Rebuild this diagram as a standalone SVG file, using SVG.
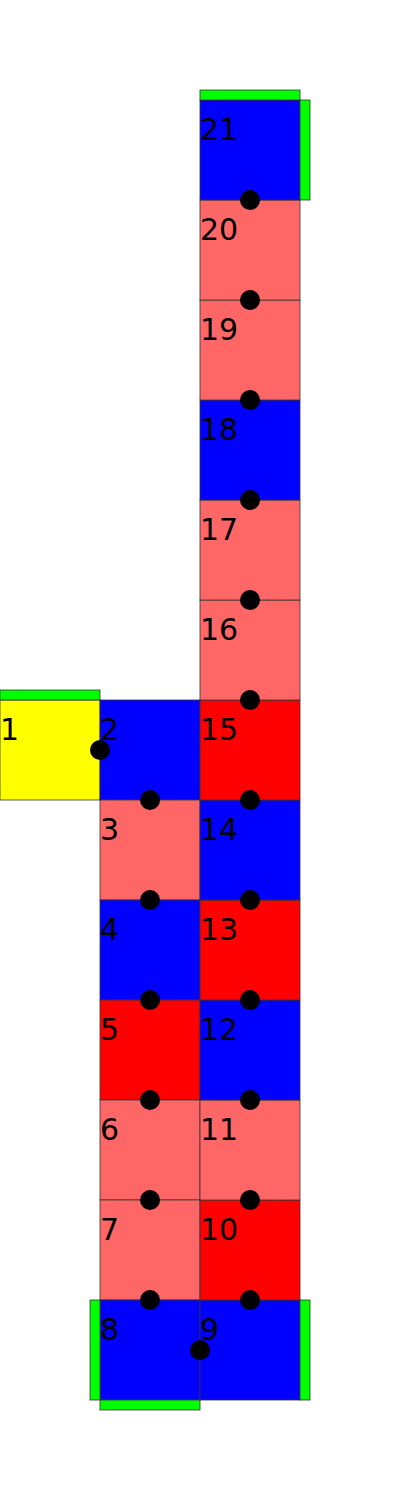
<svg xmlns="http://www.w3.org/2000/svg" width="400" height="1500" viewBox="0 0 400 1500">
<style>
.c{stroke:#333;stroke-width:1;stroke-opacity:0.8}
.y{fill:#ffff00}.b{fill:#0000ff}.s{fill:#ff6666}.r{fill:#ff0000}
.g{fill:#00ff00;stroke:#333;stroke-width:1;stroke-opacity:0.8}
text{font-family:"DejaVu Sans",sans-serif;font-size:30px;fill:#000}
.d{fill:#000}
</style>
<rect width="400" height="1500" fill="#fff"/>
<g id="n1"><rect class="c y" x="0" y="700" width="100" height="100"/><rect class="g" x="0" y="690" width="100" height="10"/><text x="0" y="740">1</text></g>
<g id="n2"><rect class="c b" x="100" y="700" width="100" height="100"/><text x="100" y="740">2</text></g>
<g id="n3"><rect class="c s" x="100" y="800" width="100" height="100"/><text x="100" y="840">3</text></g>
<g id="n4"><rect class="c b" x="100" y="900" width="100" height="100"/><text x="100" y="940">4</text></g>
<g id="n5"><rect class="c r" x="100" y="1000" width="100" height="100"/><text x="100" y="1040">5</text></g>
<g id="n6"><rect class="c s" x="100" y="1100" width="100" height="100"/><text x="100" y="1140">6</text></g>
<g id="n7"><rect class="c s" x="100" y="1200" width="100" height="100"/><text x="100" y="1240">7</text></g>
<g id="n8"><rect class="c b" x="100" y="1300" width="100" height="100"/><rect class="g" x="90" y="1300" width="10" height="100"/><rect class="g" x="100" y="1400" width="100" height="10"/><text x="100" y="1340">8</text></g>
<g id="n9"><rect class="c b" x="200" y="1300" width="100" height="100"/><rect class="g" x="300" y="1300" width="10" height="100"/><text x="200" y="1340">9</text></g>
<g id="n10"><rect class="c r" x="200" y="1200" width="100" height="100"/><text x="200" y="1240">10</text></g>
<g id="n11"><rect class="c s" x="200" y="1100" width="100" height="100"/><text x="200" y="1140">11</text></g>
<g id="n12"><rect class="c b" x="200" y="1000" width="100" height="100"/><text x="200" y="1040">12</text></g>
<g id="n13"><rect class="c r" x="200" y="900" width="100" height="100"/><text x="200" y="940">13</text></g>
<g id="n14"><rect class="c b" x="200" y="800" width="100" height="100"/><text x="200" y="840">14</text></g>
<g id="n15"><rect class="c r" x="200" y="700" width="100" height="100"/><text x="200" y="740">15</text></g>
<g id="n16"><rect class="c s" x="200" y="600" width="100" height="100"/><text x="200" y="640">16</text></g>
<g id="n17"><rect class="c s" x="200" y="500" width="100" height="100"/><text x="200" y="540">17</text></g>
<g id="n18"><rect class="c b" x="200" y="400" width="100" height="100"/><text x="200" y="440">18</text></g>
<g id="n19"><rect class="c s" x="200" y="300" width="100" height="100"/><text x="200" y="340">19</text></g>
<g id="n20"><rect class="c s" x="200" y="200" width="100" height="100"/><text x="200" y="240">20</text></g>
<g id="n21"><rect class="c b" x="200" y="100" width="100" height="100"/><rect class="g" x="200" y="90" width="100" height="10"/><rect class="g" x="300" y="100" width="10" height="100"/><text x="200" y="140">21</text></g>
<g id="connectors">
<circle class="d" cx="100" cy="750" r="10"/>
<circle class="d" cx="150" cy="800" r="10"/>
<circle class="d" cx="150" cy="900" r="10"/>
<circle class="d" cx="150" cy="1000" r="10"/>
<circle class="d" cx="150" cy="1100" r="10"/>
<circle class="d" cx="150" cy="1200" r="10"/>
<circle class="d" cx="150" cy="1300" r="10"/>
<circle class="d" cx="200" cy="1350" r="10"/>
<circle class="d" cx="250" cy="1300" r="10"/>
<circle class="d" cx="250" cy="1200" r="10"/>
<circle class="d" cx="250" cy="1100" r="10"/>
<circle class="d" cx="250" cy="1000" r="10"/>
<circle class="d" cx="250" cy="900" r="10"/>
<circle class="d" cx="250" cy="800" r="10"/>
<circle class="d" cx="250" cy="700" r="10"/>
<circle class="d" cx="250" cy="600" r="10"/>
<circle class="d" cx="250" cy="500" r="10"/>
<circle class="d" cx="250" cy="400" r="10"/>
<circle class="d" cx="250" cy="300" r="10"/>
<circle class="d" cx="250" cy="200" r="10"/>
</g>
</svg>
